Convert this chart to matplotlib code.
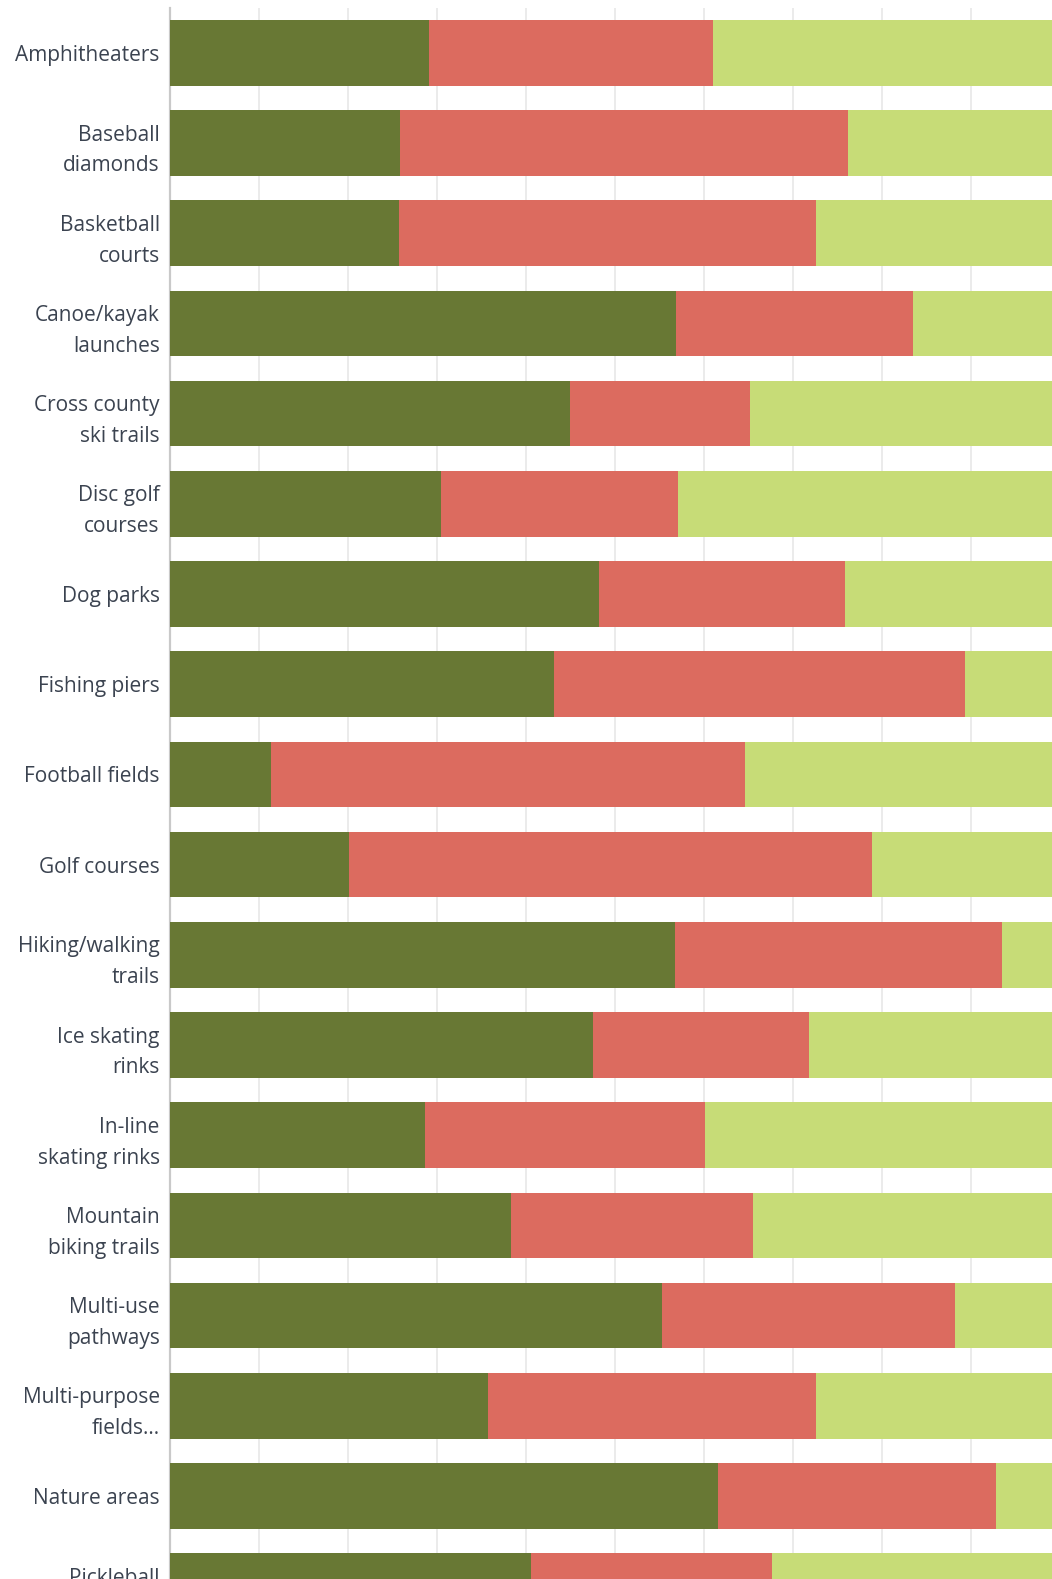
import matplotlib
matplotlib.use("Agg")
import matplotlib.pyplot as plt
import numpy as np

categories = ["Amphitheaters", "Baseball\ndiamonds", "Basketball\ncourts",
              "Canoe/kayak\nlaunches", "Cross county\nski trails", "Disc golf\ncourses",
              "Dog parks", "Fishing piers", "Football fields", "Golf courses",
              "Hiking/walking\ntrails", "Ice skating\nrinks", "In-line\nskating rinks",
              "Mountain\nbiking trails", "Multi-use\npathways", "Multi-purpose\nfields…",
              "Nature areas", "Pickleball\ncourts"]
series_a = [29.1, 25.9, 25.8, 56.9, 44.9, 30.5, 48.2, 43.2, 11.4, 20.2,
            56.7, 47.5, 28.7, 38.3, 55.3, 35.7, 61.6, 40.6]
series_b = [31.9, 50.2, 46.8, 26.5, 20.3, 26.6, 27.6, 46.1, 53.2, 58.7,
            36.7, 24.3, 31.4, 27.2, 32.9, 36.9, 31.2, 27.0]
series_c = [39.0, 23.9, 27.4, 16.6, 34.8, 42.9, 24.2, 10.7, 35.4, 21.1,
            6.6, 28.2, 39.9, 34.5, 11.8, 27.4, 7.2, 32.4]
grid_ticks = [10, 20, 30, 40, 50, 60, 70, 80, 90, 100]

colors = ["#687834", "#dc6b5f", "#c7dc77"]

W, H = 1052, 1579
fig = plt.figure(figsize=(W / 100, H / 100), dpi=100)
fig.patch.set_facecolor("white")

left_px, right_px = 169.5, 1060.5
top_px = 8
pitch = 90.2
c0 = 52.85
bottom_px = c0 + 17.5 * pitch
ax = fig.add_axes([left_px / W, 1 - bottom_px / H,
                   (right_px - left_px) / W, (bottom_px - top_px) / H])

y = np.arange(len(categories))
a = np.array(series_a); b = np.array(series_b); c = np.array(series_c)
h = 65.7 / pitch
ax.barh(y, a, height=h, color=colors[0], zorder=3)
ax.barh(y, b, left=a, height=h, color=colors[1], zorder=3)
ax.barh(y, c, left=a + b, height=h, color=colors[2], zorder=3)

ax.set_xlim(0, 100)
ax.set_ylim(17.5, -(c0 - top_px) / pitch)
for t in grid_ticks:
    ax.axvline(t, color="#ebebeb", lw=1.4, zorder=1)

for s in ["top", "right", "bottom"]:
    ax.spines[s].set_visible(False)
ax.spines["left"].set_color("#c9c9c9")
ax.spines["left"].set_linewidth(1.6)
ax.set_xticks([])
ax.set_yticks(y)
ax.set_yticklabels(categories, fontsize=15, color="#3b4350",
                   family=["Open Sans", "DejaVu Sans"], linespacing=1.62)
ax.tick_params(axis="y", length=0, pad=7)

fig.savefig("out.png", dpi=100, facecolor="white")
